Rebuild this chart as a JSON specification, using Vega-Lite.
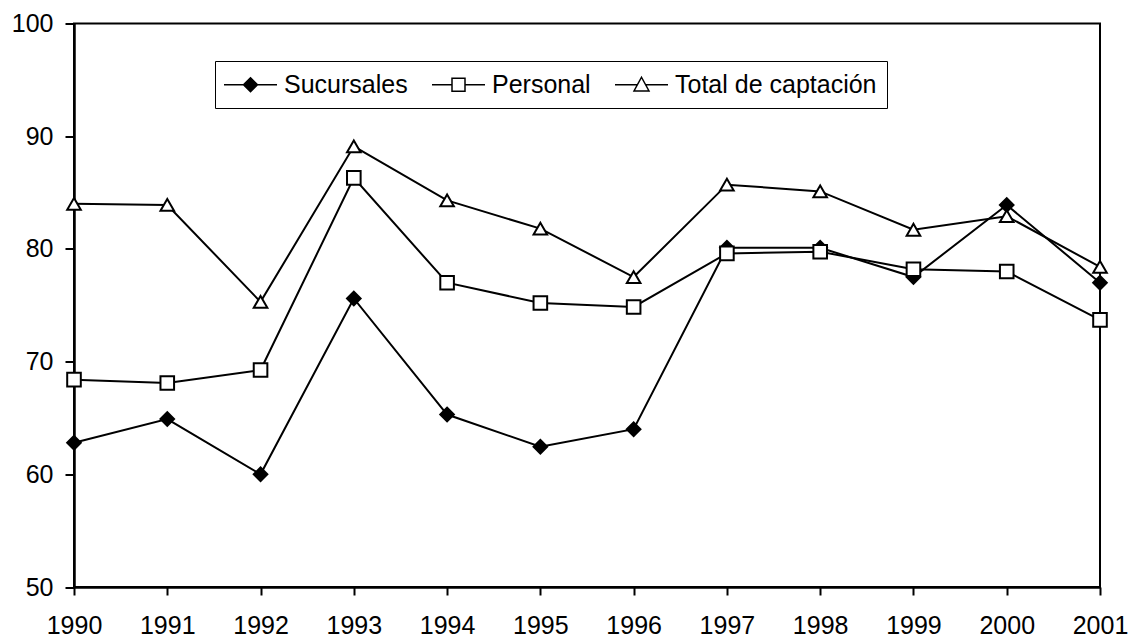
{
  "$schema": "https://vega.github.io/schema/vega-lite/v6.json",
  "width": 1026,
  "height": 563.5,
  "autosize": {"type": "none"},
  "padding": {"left": 74, "top": 23.5, "right": 30, "bottom": 50},
  "background": "white",
  "config": {
    "font": "Liberation Sans",
    "view": {"stroke": "black", "strokeWidth": 2},
    "axis": {
      "domainColor": "black", "domainWidth": 2.5,
      "tickColor": "black", "tickWidth": 2,
      "labelColor": "black", "labelFontSize": 25, "labelFont": "Liberation Sans",
      "grid": false, "title": null
    }
  },
  "data": {
    "values": [
      {"year": 1990, "series": "Sucursales", "value": 62.8},
      {"year": 1991, "series": "Sucursales", "value": 64.9},
      {"year": 1992, "series": "Sucursales", "value": 60.0},
      {"year": 1993, "series": "Sucursales", "value": 75.6},
      {"year": 1994, "series": "Sucursales", "value": 65.3},
      {"year": 1995, "series": "Sucursales", "value": 62.45},
      {"year": 1996, "series": "Sucursales", "value": 64.0},
      {"year": 1997, "series": "Sucursales", "value": 80.1},
      {"year": 1998, "series": "Sucursales", "value": 80.1},
      {"year": 1999, "series": "Sucursales", "value": 77.5},
      {"year": 2000, "series": "Sucursales", "value": 83.9},
      {"year": 2001, "series": "Sucursales", "value": 77.0},
      {"year": 1990, "series": "Personal", "value": 68.4},
      {"year": 1991, "series": "Personal", "value": 68.1},
      {"year": 1992, "series": "Personal", "value": 69.25},
      {"year": 1993, "series": "Personal", "value": 86.3},
      {"year": 1994, "series": "Personal", "value": 77.0},
      {"year": 1995, "series": "Personal", "value": 75.2},
      {"year": 1996, "series": "Personal", "value": 74.85},
      {"year": 1997, "series": "Personal", "value": 79.6},
      {"year": 1998, "series": "Personal", "value": 79.75},
      {"year": 1999, "series": "Personal", "value": 78.2},
      {"year": 2000, "series": "Personal", "value": 78.0},
      {"year": 2001, "series": "Personal", "value": 73.7},
      {"year": 1990, "series": "Total de captación", "value": 84.0},
      {"year": 1991, "series": "Total de captación", "value": 83.9},
      {"year": 1992, "series": "Total de captación", "value": 75.3},
      {"year": 1993, "series": "Total de captación", "value": 89.1},
      {"year": 1994, "series": "Total de captación", "value": 84.3},
      {"year": 1995, "series": "Total de captación", "value": 81.8},
      {"year": 1996, "series": "Total de captación", "value": 77.5},
      {"year": 1997, "series": "Total de captación", "value": 85.7},
      {"year": 1998, "series": "Total de captación", "value": 85.1},
      {"year": 1999, "series": "Total de captación", "value": 81.7},
      {"year": 2000, "series": "Total de captación", "value": 82.9},
      {"year": 2001, "series": "Total de captación", "value": 78.4}
    ]
  },
  "encoding": {
    "x": {
      "field": "year", "type": "quantitative",
      "scale": {"domain": [1990, 2001], "nice": false, "zero": false},
      "axis": {
        "values": [1990, 1991, 1992, 1993, 1994, 1995, 1996, 1997, 1998, 1999, 2000, 2001],
        "format": "d", "tickSize": 8, "labelPadding": 18,
        "labelFlush": false, "labelOverlap": false, "title": null
      }
    },
    "y": {
      "field": "value", "type": "quantitative",
      "scale": {"domain": [50, 100], "nice": false, "zero": false},
      "axis": {
        "values": [50, 60, 70, 80, 90, 100],
        "tickSize": 9, "labelPadding": 12, "labelFlush": false, "title": null
      }
    }
  },
  "resolve": {
    "scale": {"shape": "independent", "fill": "independent"},
    "legend": {"shape": "independent", "fill": "independent"}
  },
  "layer": [
    {
      "mark": {"type": "line", "color": "black", "strokeWidth": 2},
      "encoding": {"detail": {"field": "series", "type": "nominal"}}
    },
    {
      "mark": {"type": "point", "filled": true, "stroke": "black", "strokeWidth": 2, "opacity": 1, "size": 185},
      "encoding": {
        "shape": {
          "field": "series", "type": "nominal",
          "scale": {"domain": ["Sucursales", "Personal", "Total de captación"], "range": ["diamond", "square", "triangle-up"]},
          "legend": null
        },
        "fill": {
          "field": "series", "type": "nominal",
          "scale": {"domain": ["Sucursales", "Personal", "Total de captación"], "range": ["black", "white", "white"]},
          "legend": null
        }
      }
    },
    {
      "transform": [{"filter": "datum.year < 0"}],
      "mark": {"type": "point", "filled": true, "stroke": "black", "strokeWidth": 2, "opacity": 1, "size": 160},
      "encoding": {
        "shape": {
          "field": "series", "type": "nominal",
          "scale": {
            "domain": ["Sucursales", "Personal", "Total de captación"],
            "range": [
              "M-1.16,0H3.08M0.96,-0.56L1.52,0L0.96,0.56L0.4,0Z",
              "M-1.16,0H0.44M1.48,0H3.08M0.44,-0.52H1.48V0.52H0.44Z",
              "M-1.16,0H0.63M1.29,0H3.08M0.96,-0.6L1.56,0.5H0.36Z"
            ]
          },
          "legend": {
            "orient": "none", "legendX": 141, "legendY": 37.5,
            "direction": "horizontal", "title": null,
            "padding": 10, "strokeColor": "black", "fillColor": "white",
            "symbolSize": 625, "labelFontSize": 25, "labelFont": "Liberation Sans",
            "labelColor": "black", "labelOffset": 32, "columnPadding": 21,
            "labelLimit": 400,
            "encode": {"legend": {"strokeWidth": {"value": 2}}}
          }
        },
        "fill": {
          "field": "series", "type": "nominal",
          "scale": {"domain": ["Sucursales", "Personal", "Total de captación"], "range": ["black", "white", "white"]},
          "legend": null
        }
      }
    }
  ]
}
